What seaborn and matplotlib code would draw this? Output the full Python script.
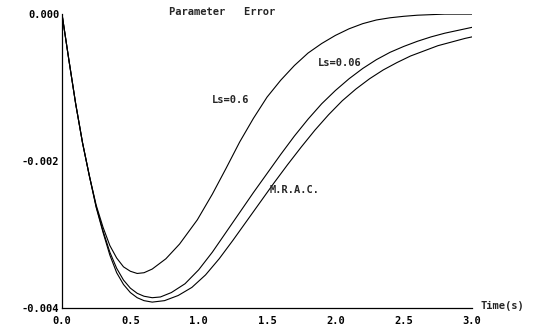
import numpy as np
import pandas as pd
import matplotlib
matplotlib.use("Agg")
import matplotlib.pyplot as plt
import seaborn as sns

# values, error in units of 1e-3
t_ls06 = [0, 0.05, 0.1, 0.15, 0.2, 0.25, 0.3, 0.35, 0.4, 0.45, 0.5, 0.55, 0.6, 0.66,
          0.76, 0.86, 0.99, 1.1, 1.2, 1.3, 1.4, 1.5, 1.6, 1.7, 1.8, 1.9, 2.0, 2.1,
          2.2, 2.3, 2.4, 2.5, 2.6, 2.8, 3.0]
e_ls06 = [0, -0.62, -1.22, -1.75, -2.2, -2.6, -2.9, -3.15, -3.32, -3.44, -3.5, -3.53, -3.52,
          -3.47, -3.33, -3.13, -2.8, -2.45, -2.1, -1.74, -1.42, -1.13, -0.9, -0.7, -0.53,
          -0.4, -0.29, -0.2, -0.13, -0.08, -0.05, -0.03, -0.015, 0, 0]

t_ls006 = [0, 0.05, 0.1, 0.15, 0.2, 0.25, 0.3, 0.35, 0.4, 0.45, 0.5, 0.55, 0.6, 0.66,
           0.72, 0.8, 0.9, 1.0, 1.1, 1.2, 1.3, 1.4, 1.5, 1.6, 1.7, 1.8, 1.9, 2.0, 2.1,
           2.2, 2.3, 2.4, 2.5, 2.6, 2.7, 2.8, 2.9, 3.0]
e_ls006 = [0, -0.62, -1.22, -1.75, -2.2, -2.62, -2.95, -3.24, -3.46, -3.62, -3.73, -3.8,
           -3.84, -3.86, -3.85, -3.79, -3.67, -3.48, -3.24, -2.97, -2.7, -2.43, -2.17,
           -1.91, -1.66, -1.43, -1.22, -1.04, -0.88, -0.74, -0.62, -0.52, -0.44, -0.37,
           -0.31, -0.26, -0.22, -0.18]

t_mrac = [0, 0.05, 0.1, 0.15, 0.2, 0.25, 0.3, 0.35, 0.4, 0.45, 0.5, 0.55, 0.6, 0.66,
          0.75, 0.85, 0.95, 1.05, 1.15, 1.25, 1.35, 1.45, 1.55, 1.65, 1.75, 1.85, 1.95,
          2.05, 2.15, 2.25, 2.35, 2.45, 2.55, 2.65, 2.75, 2.85, 2.95, 3.0]
e_mrac = [0, -0.62, -1.22, -1.75, -2.2, -2.63, -2.97, -3.28, -3.52, -3.68, -3.79, -3.86,
          -3.9, -3.92, -3.9, -3.83, -3.72, -3.55, -3.33, -3.08, -2.82, -2.56, -2.3, -2.05,
          -1.81, -1.58, -1.37, -1.18, -1.02, -0.88, -0.76, -0.66, -0.57, -0.5, -0.43,
          -0.38, -0.33, -0.31]

names = ["Ls=0.6", "Ls=0.06", "M.R.A.C."]
x_ticks = [0.0, 0.5, 1.0, 1.5, 2.0, 2.5, 3.0]
y_ticks = [0.0, -0.002, -0.004]

df = pd.concat([
    pd.DataFrame({"t": t_ls06, "err": np.array(e_ls06) / 1000, "run": names[0]}),
    pd.DataFrame({"t": t_ls006, "err": np.array(e_ls006) / 1000, "run": names[1]}),
    pd.DataFrame({"t": t_mrac, "err": np.array(e_mrac) / 1000, "run": names[2]}),
])

sns.set_style("white")
plt.rcParams['font.family'] = ['DejaVu Sans Mono']
fig = plt.figure(figsize=(5.41, 3.28), dpi=100)
ax = fig.add_axes([0.1146, 0.061, 0.758, 0.896])

sns.lineplot(data=df, x="t", y="err", hue="run", palette=["black"] * 3,
             linewidth=0.8, legend=False, ax=ax, sort=False)

ax.set_xlim(0, 3.0)
ax.set_ylim(-0.004, 0.0)
ax.set_xticks(x_ticks)
ax.set_xticklabels([f"{v:.1f}" for v in x_ticks])
ax.set_yticks(y_ticks)
ax.set_yticklabels([f"{v:.3f}" for v in y_ticks])
ax.set_yticks([-0.001, -0.003], minor=True)
ax.tick_params(axis="both", which="both", direction="in", length=5, width=0.8,
               labelsize=7.5, colors="black")
ax.tick_params(axis="x", pad=6)
ax.tick_params(axis="y", pad=2)
for lab in ax.get_xticklabels() + ax.get_yticklabels():
    lab.set_fontweight("bold")
ax.set_xlabel("")
ax.set_ylabel("")
sns.despine(ax=ax)
for s in ["left", "bottom"]:
    ax.spines[s].set_linewidth(0.9)
    ax.spines[s].set_color("black")

# curve labels and title
kw = dict(fontsize=7.5, fontweight="bold", va="center", ha="left")
ax.text(1.10, -0.00117, "Ls=0.6", **kw)
ax.text(1.87, -0.00066, "Ls=0.06", **kw)
ax.text(1.52, -0.0024, "M.R.A.C.", **kw)
ax.text(0.39, 1.007, "Parameter   Error", transform=ax.transAxes, fontsize=7.5,
        fontweight="bold", ha="center", va="center")
ax.text(3.06, -0.00397, "Time(s)", fontsize=7.5, fontweight="bold", ha="left",
        va="center", clip_on=False)

fig.savefig("out.png", dpi=100)
